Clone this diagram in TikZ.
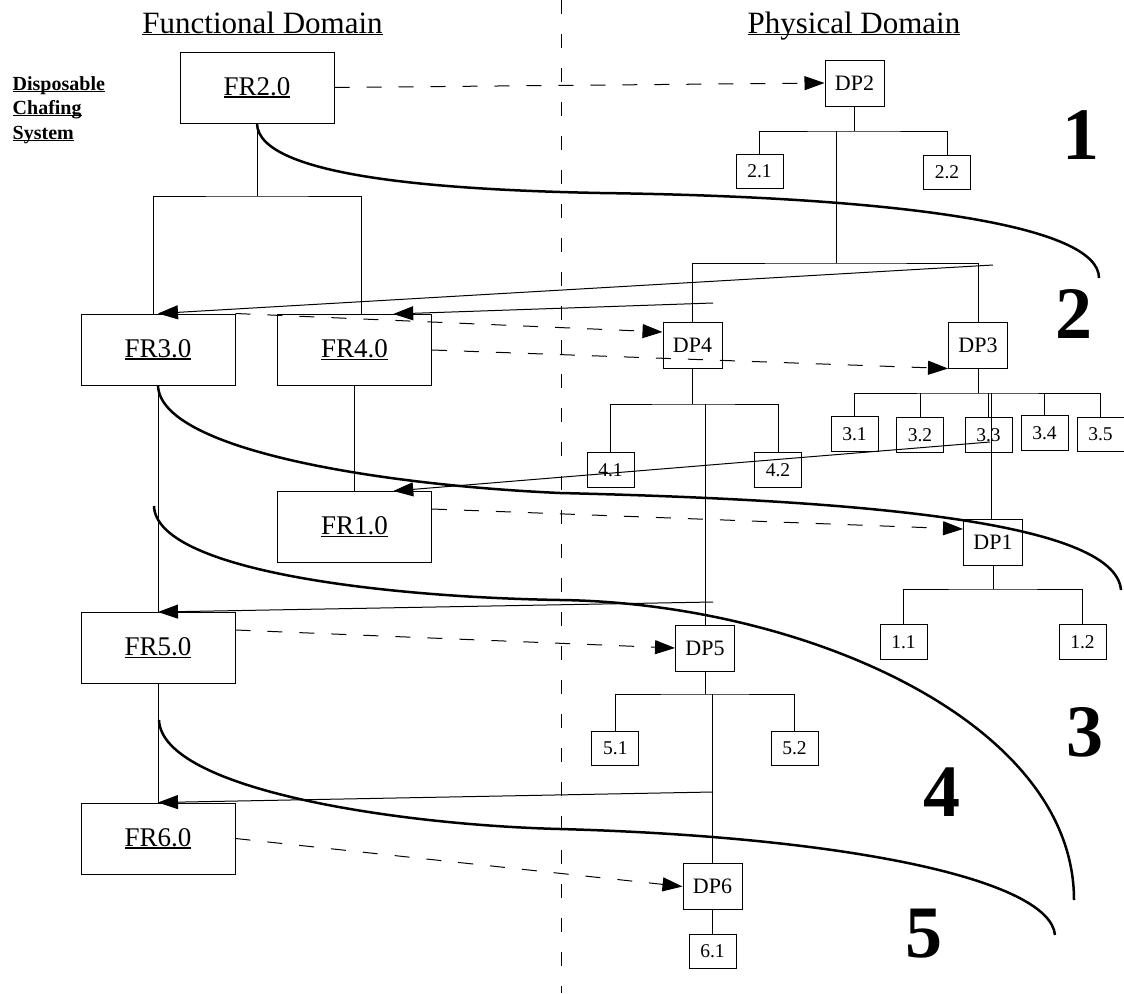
\documentclass[tikz,border=0pt]{standalone}
\usepackage{fontspec}
\setmainfont{Liberation Serif}
\usetikzlibrary{arrows.meta,calc}
\newcommand{\ulx}[1]{\leavevmode\setbox0\hbox{#1}\rlap{\rule[-0.08em]{\wd0}{0.04em}}\box0}
\tikzset{
 frbox/.style={draw, line width=1pt, minimum width=154pt, minimum height=71pt, inner sep=0pt, font=\fontsize{27}{32}\selectfont},
 dpbox/.style={draw, line width=1pt, minimum width=59pt, minimum height=46pt, inner sep=0pt, font=\fontsize{22}{26}\selectfont},
 subbox/.style={draw, line width=1pt, minimum width=47pt, minimum height=34.5pt, inner sep=0pt, font=\fontsize{19.5}{23}\selectfont},
 link/.style={line width=1pt},
 dlink/.style={line width=1pt, dash pattern=on 15pt off 17pt, -{Triangle[length=20pt,width=14pt]}},
 slink/.style={line width=1pt, -{Triangle[length=20pt,width=14pt]}},
 zone/.style={line width=2.5pt},
 bignum/.style={inner sep=0pt, font=\bfseries\fontsize{74}{80}\selectfont},
 titletext/.style={anchor=base, inner sep=0pt, font=\fontsize{31}{36}\selectfont},
 sysname/.style={anchor=base west, inner sep=0pt, font=\bfseries\fontsize{20}{24}\selectfont},
}
\begin{document}
\begin{tikzpicture}[x=1pt,y=-1pt]
\useasboundingbox (0,0) rectangle (1124,993);

% domain divider
\coordinate (dtop) at (561.5,0);
\coordinate (dbot) at (561.5,993);
\draw[link, dash pattern=on 14pt off 20pt] (dtop) -- (dbot);

% titles
\node[titletext] (tf) at (262.5,33) {\ulx{Functional Domain}};
\node[titletext] (tp) at (854,33) {\ulx{Physical Domain}};
\node[sysname] (s1) at (12.5,90) {\ulx{Disposable}};
\node[sysname] (s2) at (12.5,114.5) {\ulx{Chafing}};
\node[sysname] (s3) at (12.5,139) {\ulx{System}};

% functional requirements
\node[frbox] (FR2) at (257,87.5) {\ulx{FR2.0}};
\node[frbox] (FR3) at (158,349.5) {\ulx{FR3.0}};
\node[frbox] (FR4) at (354.5,350) {\ulx{FR4.0}};
\node[frbox] (FR1) at (354.5,527) {\ulx{FR1.0}};
\node[frbox] (FR5) at (158,648) {\ulx{FR5.0}};
\node[frbox] (FR6) at (158,838.5) {\ulx{FR6.0}};

% design parameters
\node[dpbox] (DP2) at (854.5,83) {DP2};
\node[subbox] (s21) at (759.5,171.5) {2.1};
\node[subbox] (s22) at (947,172.5) {2.2};
\node[dpbox] (DP4) at (692.5,345) {DP4};
\node[subbox] (s41) at (610.5,470) {4.1};
\node[subbox] (s42) at (778,470) {4.2};
\node[dpbox] (DP3) at (978,345) {DP3};
\node[subbox] (s31) at (854.5,434) {3.1};
\node[subbox] (s32) at (920,435) {3.2};
\node[subbox] (s33) at (988.5,435) {3.3};
\node[subbox] (s34) at (1044.5,433) {3.4};
\node[subbox] (s35) at (1100.5,434.5) {3.5};
\node[dpbox] (DP1) at (993,542) {DP1};
\node[subbox] (s11) at (903.5,642) {1.1};
\node[subbox] (s12) at (1082.5,642) {1.2};
\node[dpbox] (DP5) at (705,648) {DP5};
\node[subbox] (s51) at (615.4,748.5) {5.1};
\node[subbox] (s52) at (794.5,748.5) {5.2};
\node[dpbox] (DP6) at (712.5,886.5) {DP6};
\node[subbox] (s61) at (712.5,951.5) {6.1};

% big zone numbers
\node[bignum] (n1) at (1081,135) {1};
\node[bignum] (n2) at (1074,314) {2};
\node[bignum] (n3) at (1085,732) {3};
\node[bignum] (n4) at (942,792) {4};
\node[bignum] (n5) at (924,933.5) {5};

% functional tree
\coordinate (f2) at (257,196);
\draw[link] (FR2.south) -- (f2);
\draw[link] ([xshift=-5pt]FR3.north) |- (f2) -| ([xshift=6.5pt]FR4.north);
\draw[link] (FR4) -- (FR1);
\draw[link] (FR3) -- (FR5);
\draw[link] (FR5) -- (FR6);

% physical trees
\coordinate (b2) at (854.5,131);
\draw[link] (DP2.south) -- (b2);
\draw[link] (s21.north) |- (b2) -| (s22.north);
\coordinate (c2) at (836,131);
\coordinate (b24) at (836,263);
\draw[link] (c2) -- (b24);
\draw[link] (DP4.north) |- (b24) -| (DP3.north);

\coordinate (b4) at (692.5,404);
\draw[link] (DP4.south) -- (b4);
\draw[link] (s41.north) |- (b4) -| (s42.north);
\coordinate (c4) at (705,404);
\draw[link] (c4) -- (DP5.north);

\coordinate (b3) at (978,393);
\draw[link] (DP3.south) -- (b3);
\draw[link] (s31.north) |- (b3) -| (s35.north);
\draw[link] (s32.north) -- (s32 |- b3);
\draw[link] (s34.north) -- (s34 |- b3);
\draw[link] (s33.north) -- (s33 |- b3);
\coordinate (c3) at (991.5,393);
\draw[link] (c3) -- (c3 |- DP1.north);

\coordinate (b1) at (993,589);
\draw[link] (DP1.south) -- (b1);
\draw[link] (s11.north) |- (b1) -| (s12.north);

\coordinate (b5) at (705,694);
\draw[link] (DP5.south) -- (b5);
\draw[link] (s51.north) |- (b5) -| (s52.north);
\coordinate (c5) at (712.5,694);
\draw[link] (c5) -- (DP6.north);
\draw[link] (DP6) -- (s61);

% mapping arrows (dashed)
\draw[dlink] (FR2.east) -- (DP2.west);
\draw[dlink] (FR3.north east) -- ([yshift=13pt]DP4.west);
\draw[dlink] (FR4.east) -- (DP3.south west);
\draw[dlink] ([yshift=18pt]FR1.east) -- ([yshift=13pt]DP1.west);
\draw[dlink] ([yshift=18pt]FR5.east) -- (DP5.west);
\draw[dlink] (FR6.east) -- (DP6.west);

% zigzag return arrows (solid)
\coordinate (t1) at (993,265);
\coordinate (t2) at (713,303);
\coordinate (t3) at (990,442);
\coordinate (t4) at (713,602);
\coordinate (t5) at (713,792);
\draw[slink] (t1) -- (FR3.north);
\draw[slink] (t2) -- ($(FR4.north west)!0.75!(FR4.north east)$);
\draw[slink] (t3) -- ($(FR1.north west)!0.75!(FR1.north east)$);
\draw[slink] (t4) -- (FR5.north);
\draw[slink] (t5) -- (FR6.north);

% zone boundaries
\draw[zone] (FR2.south) .. controls (258,178) and (450,190) .. (600,193)
  .. controls (900,197) and (1099,225) .. (1099,278);
\draw[zone] (FR3.south) .. controls (160,450) and (380,485) .. (560,493)
  .. controls (850,500) and (1115,520) .. (1121,590);
\coordinate (z3) at (154,506);
\draw[zone] (z3) .. controls (156,570) and (380,597) .. (560,600)
  .. controls (800,603) and (1074,720) .. (1074,900);
\coordinate (z4) at (159,720);
\draw[zone] (z4) .. controls (162,790) and (400,825) .. (560,829)
  .. controls (850,837) and (1050,880) .. (1055,935);
\end{tikzpicture}
\end{document}
